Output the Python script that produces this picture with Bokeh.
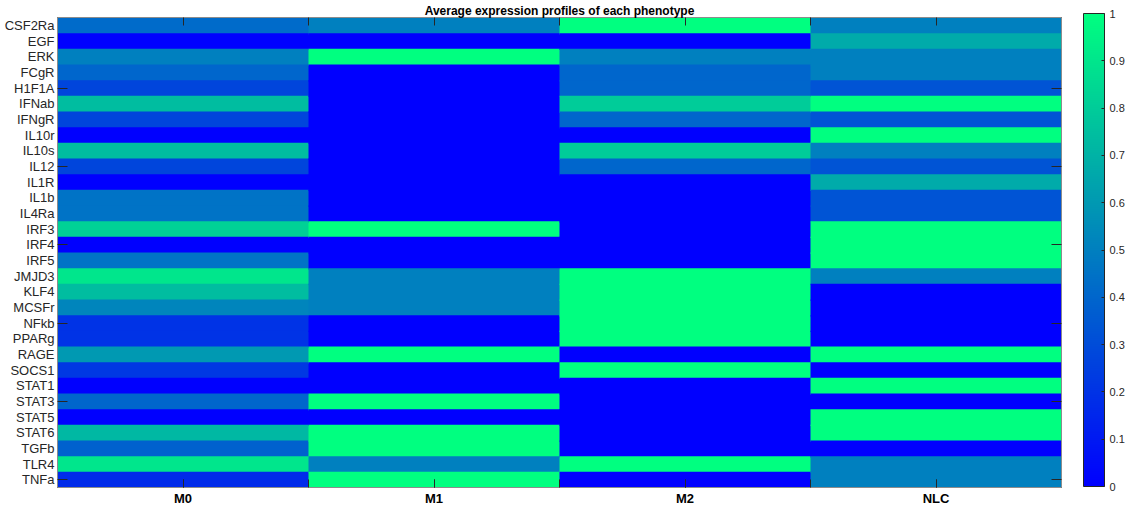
from bokeh.plotting import figure
from bokeh.models import (ColumnDataSource, LinearColorMapper, ColorBar, FixedTicker,
                          LinearAxis, Range1d)
from bokeh.transform import transform
from bokeh.embed import file_html
from bokeh.resources import INLINE

genes = ["CSF2Ra", "EGF", "ERK", "FCgR", "H1F1A", "IFNab", "IFNgR", "IL10r", "IL10s", "IL12",
         "IL1R", "IL1b", "IL4Ra", "IRF3", "IRF4", "IRF5", "JMJD3", "KLF4", "MCSFr", "NFkb",
         "PPARg", "RAGE", "SOCS1", "STAT1", "STAT3", "STAT5", "STAT6", "TGFb", "TLR4", "TNFa"]
phenotypes = ["M0", "M1", "M2", "NLC"]

M0 = [0.42, 0.0, 0.5, 0.4, 0.27, 0.74, 0.27, 0.0, 0.74, 0.27, 0.0, 0.45, 0.45, 0.82, 0.0,
      0.45, 0.9, 0.74, 0.52, 0.2, 0.2, 0.6, 0.22, 0.0, 0.4, 0.0, 0.72, 0.38, 0.9, 0.17]
M1 = [0.5, 0.0, 1.0, 0.0, 0.0, 0.0, 0.0, 0.0, 0.0, 0.0, 0.0, 0.0, 0.0, 1.0, 0.0,
      0.0, 0.5, 0.5, 0.5, 0.0, 0.0, 1.0, 0.0, 0.0, 1.0, 0.0, 1.0, 1.0, 0.5, 1.0]
M2 = [1.0, 0.0, 0.5, 0.4, 0.4, 0.8, 0.4, 0.0, 0.8, 0.4, 0.0, 0.0, 0.0, 0.0, 0.0,
      0.0, 1.0, 1.0, 1.0, 1.0, 1.0, 0.0, 1.0, 0.0, 0.0, 0.0, 0.0, 0.0, 1.0, 0.0]
NLC = [0.5, 0.67, 0.5, 0.5, 0.33, 1.0, 0.33, 1.0, 0.5, 0.33, 0.67, 0.33, 0.33, 1.0, 1.0,
       1.0, 0.5, 0.0, 0.0, 0.0, 0.0, 1.0, 0.0, 1.0, 0.0, 1.0, 1.0, 0.0, 0.5, 0.5]
series = [M0, M1, M2, NLC]
cbar_ticks = [0, 0.1, 0.2, 0.3, 0.4, 0.5, 0.6, 0.7, 0.8, 0.9, 1]
title_text = "Average expression profiles of each phenotype"

# MATLAB "winter" colormap
palette = []
for i in range(256):
    g = i / 255
    palette.append("#%02x%02x%02x" % (0, round(255 * g), round(255 * (1 - 0.5 * g))))

# cells drawn top-to-bottom, left-to-right; each one reaches a little past its
# lower/right edge so the next cell covers it (hides anti-aliasing seams)
L, R, T, B, V = [], [], [], [], []
for ci, col in enumerate(series):
    for ri, v in enumerate(col):
        L.append(ci + 0.5)
        R.append(ci + 1.5 + 0.01)
        T.append(ri + 0.5)
        B.append(ri + 1.5 + 0.08)
        V.append(v)
src = ColumnDataSource(dict(left=L, right=R, top=T, bottom=B, v=V))
mapper = LinearColorMapper(palette=palette, low=0, high=1)

W, H = 1125, 508
BL, BR, BT, BB = 57, 64, 17, 17
frame_h = H - BT - BB
p = figure(width=W, height=H, output_backend="svg", toolbar_location=None,
           x_range=Range1d(0.5, len(phenotypes) + 0.5),
           y_range=Range1d(len(genes) + 0.5, 0.5),
           x_axis_type=None, y_axis_type=None, title=title_text)
p.min_border_left = BL
p.min_border_right = BR
p.min_border_top = BT
p.min_border_bottom = BB
p.outline_line_color = None
p.background_fill_color = "white"

p.quad(left="left", right="right", top="top", bottom="bottom", source=src,
       fill_color=transform("v", mapper), line_color=None)

AX = "#262626"
BOX = "#8c8c8c"
FONT = "Liberation Sans"
row_marks = [5, 10, 15, 20, 25, 30]
col_marks = [0.5, 1, 1.5, 2, 2.5, 3, 3.5, 4, 4.5]

yl = LinearAxis(ticker=FixedTicker(ticks=list(range(1, len(genes) + 1)), minor_ticks=row_marks),
                major_label_overrides={i + 1: g for i, g in enumerate(genes)})
yl.major_tick_line_color = None
yl.major_tick_in = 0
yl.major_tick_out = 0
yl.minor_tick_in = 10
yl.minor_tick_out = 0
yl.minor_tick_line_color = AX
yl.axis_line_color = BOX
yl.major_label_text_font = FONT
yl.major_label_text_font_size = "13px"
yl.major_label_text_color = AX
yl.major_label_standoff = 3
p.add_layout(yl, "left")

xb = LinearAxis(ticker=FixedTicker(ticks=[1, 2, 3, 4], minor_ticks=col_marks),
                major_label_overrides={i + 1: n for i, n in enumerate(phenotypes)})
xb.major_tick_in = 8
xb.major_tick_out = 0
xb.minor_tick_in = 8
xb.minor_tick_out = 0
xb.major_tick_line_color = AX
xb.minor_tick_line_color = AX
xb.axis_line_color = BOX
xb.major_label_text_font = FONT
xb.major_label_text_font_size = "13px"
xb.major_label_text_font_style = "bold"
xb.major_label_text_color = "black"
xb.major_label_standoff = 3
p.add_layout(xb, "below")

# frame box on the right and top, with tick marks only (major ticks lie off-range)
yr = LinearAxis(ticker=FixedTicker(ticks=[-100], minor_ticks=row_marks))
yr.major_tick_line_color = None
yr.major_tick_in = 0
yr.major_tick_out = 0
yr.minor_tick_in = 10
yr.minor_tick_out = 0
yr.minor_tick_line_color = AX
yr.axis_line_color = BOX
yr.major_label_standoff = 0
p.add_layout(yr, "right")

xt = LinearAxis(ticker=FixedTicker(ticks=[-100], minor_ticks=col_marks))
xt.major_tick_line_color = None
xt.major_tick_in = 0
xt.major_tick_out = 3   # reserves a little room so the title sits higher
xt.minor_tick_in = 8
xt.minor_tick_out = 0
xt.minor_tick_line_color = AX
xt.axis_line_color = BOX
xt.major_label_standoff = 0
p.add_layout(xt, "above")

cb = ColorBar(color_mapper=mapper, ticker=FixedTicker(ticks=cbar_ticks),
              major_label_overrides={0: "0", 1: "1"},
              width=21, height=frame_h - 1, padding=0, margin=0, label_standoff=5,
              location=(1083 - BL, 1),
              major_tick_in=3, major_tick_out=0, major_tick_line_color=AX,
              bar_line_color=AX, major_label_text_font=FONT,
              major_label_text_font_size="11px", major_label_text_color=AX)
p.add_layout(cb, "center")

p.title.align = "center"
p.title.text_font = FONT
p.title.text_font_size = "12px"
p.title.text_font_style = "bold"
p.title.text_color = "black"
p.title.standoff = 0
p.title.offset = 0

open("out.html", "w").write(file_html(p, INLINE))
